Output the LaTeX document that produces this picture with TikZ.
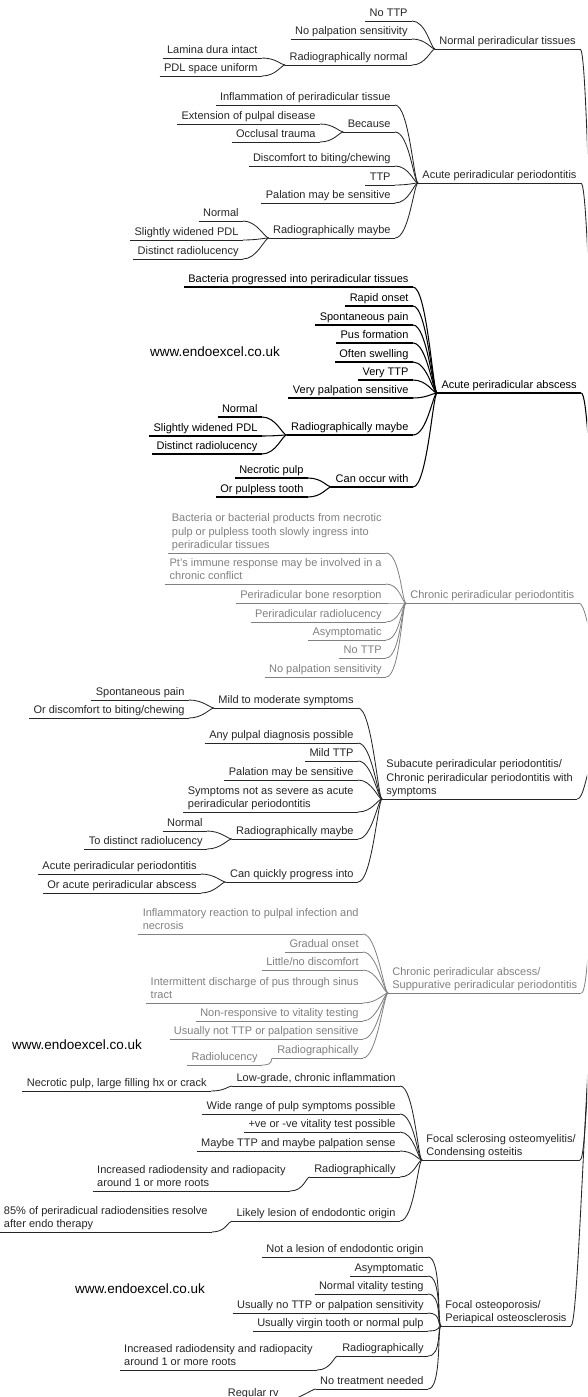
\documentclass[tikz,border=0pt]{standalone}
\usepackage{fontspec}
\setmainfont{Liberation Sans}
\usepackage{xcolor}
\definecolor{ink}{HTML}{262626}
\definecolor{deep}{HTML}{000000}
\definecolor{faint}{HTML}{808080}
\newcommand{\mlines}[1]{\begin{tabular}[b]{@{}l@{}}#1\end{tabular}}

\begin{document}
\begin{tikzpicture}[
    x=1pt, y=-1pt,
    leaf/.style={inner xsep=4pt, inner ysep=1.5pt, text depth=2.5pt,
        font=\fontsize{11}{13.5}\selectfont,
        append after command={(\tikzlastnode.south west) edge (\tikzlastnode.south east)}},
    lhs/.style={leaf, anchor=south east},
    rhs/.style={leaf, anchor=south west},
    branch/.style={to path={.. controls +(14,0) and +(-4,0) .. (\tikztotarget)}},
    rootlink/.style={to path={.. controls +(12,0) and +(-50,0) .. (\tikztotarget)}},
    watermark/.style={font=\fontsize{13.5}{16}\selectfont, text=black, inner sep=0pt},
    line width=0.85pt
]
\useasboundingbox (0,0) rectangle (587,1397);
\clip (0,0) rectangle (587,1397);

% Hub of the map lies just beyond the right edge
\coordinate (root) at (640,700);

% Normal periradicular tissues
\begin{scope}[color=ink]
    \node[rhs] (norm) at (435,49) {Normal periradicular tissues};
    \foreach \n/\y/\txt in {1/21/{No TTP}, 2/39/{No palpation sensitivity},
            3/65/{Radiographically normal}} {
        \node[lhs] (norm\n) at (412,\y) {\txt};
        \draw[branch] (norm\n.south east) to (norm.south west);
    }
    \foreach \n/\y/\txt in {1/58/{Lamina dura intact}, 2/76/{PDL space uniform}} {
        \node[lhs] (norm3\n) at (262,\y) {\txt};
        \draw[branch] (norm3\n.south east) to (norm3.south west);
    }
    \draw[rootlink] (norm.south east) to (root);
\end{scope}

% Acute periradicular periodontitis
\begin{scope}[color=ink]
    \node[rhs] (app) at (418,183) {Acute periradicular periodontitis};
    \foreach \n/\y/\txt in {1/105/{Inflammation of periradicular tissue}, 2/132/Because,
            3/166/{Discomfort to biting/chewing}, 4/185/TTP,
            5/203/{Palation may be sensitive}, 6/238/{Radiographically maybe}} {
        \node[lhs] (app\n) at (395,\y) {\txt};
        \draw[branch] (app\n.south east) to (app.south west);
    }
    \foreach \n/\y/\txt in {1/124/{Extension of pulpal disease}, 2/142/{Occlusal trauma}} {
        \node[lhs] (app2\n) at (320,\y) {\txt};
        \draw[branch] (app2\n.south east) to (app2.south west);
    }
    \foreach \n/\y/\txt in {1/221/Normal, 2/240/{Slightly widened PDL},
            3/259/{Distinct radiolucency}} {
        \node[lhs] (app6\n) at (243,\y) {\txt};
        \draw[branch] (app6\n.south east) to (app6.south west);
    }
    \draw[rootlink] (app.south east) to (root);
\end{scope}

% Acute periradicular abscess
\begin{scope}[color=deep, line width=1.05pt]
    \node[rhs] (apa) at (437,393) {Acute periradicular abscess};
    \foreach \n/\y/\txt in {1/287/{Bacteria progressed into periradicular tissues},
            2/306/{Rapid onset}, 3/325/{Spontaneous pain}, 4/343/{Pus formation},
            5/362/{Often swelling}, 6/380/{Very TTP}, 7/398/{Very palpation sensitive},
            8/435/{Radiographically maybe}, 9/487/{Can occur with}} {
        \node[lhs] (apa\n) at (413,\y) {\txt};
        \draw[branch] (apa\n.south east) to (apa.south west);
    }
    \foreach \n/\y/\txt in {1/417/Normal, 2/436/{Slightly widened PDL},
            3/454/{Distinct radiolucency}} {
        \node[lhs] (apa8\n) at (262,\y) {\txt};
        \draw[branch] (apa8\n.south east) to (apa8.south west);
    }
    \foreach \n/\y/\txt in {1/478/{Necrotic pulp}, 2/497/{Or pulpless tooth}} {
        \node[lhs] (apa9\n) at (308,\y) {\txt};
        \draw[branch] (apa9\n.south east) to (apa9.south west);
    }
    \draw[rootlink] (apa.south east) to (root);
\end{scope}
\node[watermark] (site1) at (215,352) {www.endoexcel.co.uk};

% Chronic periradicular periodontitis
\begin{scope}[color=faint, line width=0.8pt]
    \node[rhs] (cpp) at (406,603) {Chronic periradicular periodontitis};
    \foreach \n/\y/\txt in {
            1/553/{\mlines{Bacteria or bacterial products from necrotic\\pulp or pulpless tooth slowly ingress into\\periradicular tissues}},
            2/584/{\mlines{Pt's immune response may be involved in a\\chronic conflict}},
            3/603/{Periradicular bone resorption}, 4/622/{Periradicular radiolucency},
            5/640/Asymptomatic, 6/658/{No TTP}, 7/677/{No palpation sensitivity}} {
        \node[lhs] (cpp\n) at (386,\y) {\txt};
        \draw[branch] (cpp\n.south east) to (cpp.south west);
    }
    \draw[rootlink] (cpp.south east) to (root);
\end{scope}

% Subacute periradicular periodontitis
\begin{scope}[color=ink]
    \node[rhs] (sub) at (382,799) {\mlines{Subacute periradicular periodontitis/\\Chronic periradicular periodontitis with\\symptoms}};
    \foreach \n/\y/\txt in {1/708/{Mild to moderate symptoms},
            2/743/{Any pulpal diagnosis possible}, 3/761/{Mild TTP},
            4/780/{Palation may be sensitive},
            5/812/{\mlines{Symptoms not as severe as acute\\periradicular periodontitis}},
            6/839/{Radiographically maybe}, 7/882/{Can quickly progress into}} {
        \node[lhs] (sub\n) at (358,\y) {\txt};
        \draw[branch] (sub\n.south east) to (sub.south west);
    }
    \foreach \n/\y/\txt in {1/700/{Spontaneous pain}, 2/718/{Or discomfort to biting/chewing}} {
        \node[lhs] (sub1\n) at (189,\y) {\txt};
        \draw[branch] (sub1\n.south east) to (sub1.south west);
    }
    \foreach \n/\y/\txt in {1/831/Normal, 2/849/{To distinct radiolucency}} {
        \node[lhs] (sub6\n) at (207,\y) {\txt};
        \draw[branch] (sub6\n.south east) to (sub6.south west);
    }
    \foreach \n/\y/\txt in {1/874/{Acute periradicular periodontitis},
            2/893/{Or acute periradicular abscess}} {
        \node[lhs] (sub7\n) at (201,\y) {\txt};
        \draw[branch] (sub7\n.south east) to (sub7.south west);
    }
    \draw[rootlink] (sub.south east) to (root);
\end{scope}

% Chronic periradicular abscess
\begin{scope}[color=faint, line width=0.8pt]
    \node[rhs] (cpa) at (388,993) {\mlines{Chronic periradicular abscess/\\Suppurative periradicular periodontitis}};
    \foreach \n/\y/\txt in {
            1/934/{\mlines{Inflammatory reaction to pulpal infection and\\necrosis}},
            2/952/{Gradual onset}, 3/970/{Little/no discomfort},
            4/1003/{\mlines{Intermittent discharge of pus through sinus\\tract}},
            5/1021/{Non-responsive to vitality testing},
            6/1039/{Usually not TTP or palpation sensitive}, 7/1058/Radiographically} {
        \node[lhs] (cpa\n) at (363,\y) {\txt};
        \draw[branch] (cpa\n.south east) to (cpa.south west);
    }
    \node[lhs] (cpa71) at (262,1065) {Radiolucency};
    \draw[branch] (cpa71.south east) to (cpa7.south west);
    \draw[rootlink] (cpa.south east) to (root);
\end{scope}
\node[watermark] (site2) at (77,1045) {www.endoexcel.co.uk};

% Focal sclerosing osteomyelitis
\begin{scope}[color=ink]
    \node[rhs] (fso) at (422,1160) {\mlines{Focal sclerosing osteomyelitis/\\Condensing osteitis}};
    \foreach \n/\y/\txt in {1/1086/{Low-grade, chronic inflammation},
            2/1114/{Wide range of pulp symptoms possible},
            3/1132/{+ve or -ve vitality test possible},
            4/1151/{Maybe TTP and maybe palpation sense}, 5/1177/Radiographically,
            6/1221/{Likely lesion of endodontic origin}} {
        \node[lhs] (fso\n) at (400,\y) {\txt};
        \draw[branch] (fso\n.south east) to (fso.south west);
    }
    \node[lhs] (fso11) at (211,1091) {Necrotic pulp, large filling hx or crack};
    \node[lhs] (fso51) at (290,1191) {\mlines{Increased radiodensity and radiopacity\\around 1 or more roots}};
    \node[lhs] (fso61) at (212,1232) {\mlines{85\% of periradicual radiodensities resolve\\after endo therapy}};
    \draw[branch] (fso11.south east) to (fso1.south west);
    \draw[branch] (fso51.south east) to (fso5.south west);
    \draw[branch] (fso61.south east) to (fso6.south west);
    \draw[rootlink] (fso.south east) to (root);
\end{scope}

% Focal osteoporosis
\begin{scope}[color=ink]
    \node[rhs] (fop) at (441,1326) {\mlines{Focal osteoporosis/\\Periapical osteosclerosis}};
    \foreach \n/\y/\txt in {1/1257/{Not a lesion of endodontic origin}, 2/1276/Asymptomatic,
            3/1294/{Normal vitality testing},
            4/1313/{Usually no TTP or palpation sensitivity},
            5/1331/{Usually virgin tooth or normal pulp}, 6/1356/Radiographically,
            7/1389/{No treatment needed}} {
        \node[lhs] (fop\n) at (428,\y) {\txt};
        \draw[branch] (fop\n.south east) to (fop.south west);
    }
    \node[lhs] (fop61) at (317,1370) {\mlines{Increased radiodensity and radiopacity\\around 1 or more roots}};
    \node[lhs] (fop71) at (283,1401) {Regular rv};
    \draw[branch] (fop61.south east) to (fop6.south west);
    \draw[branch] (fop71.south east) to (fop7.south west);
    \draw[rootlink] (fop.south east) to (root);
\end{scope}
\node[watermark] (site3) at (140,1289) {www.endoexcel.co.uk};

\end{tikzpicture}
\end{document}
